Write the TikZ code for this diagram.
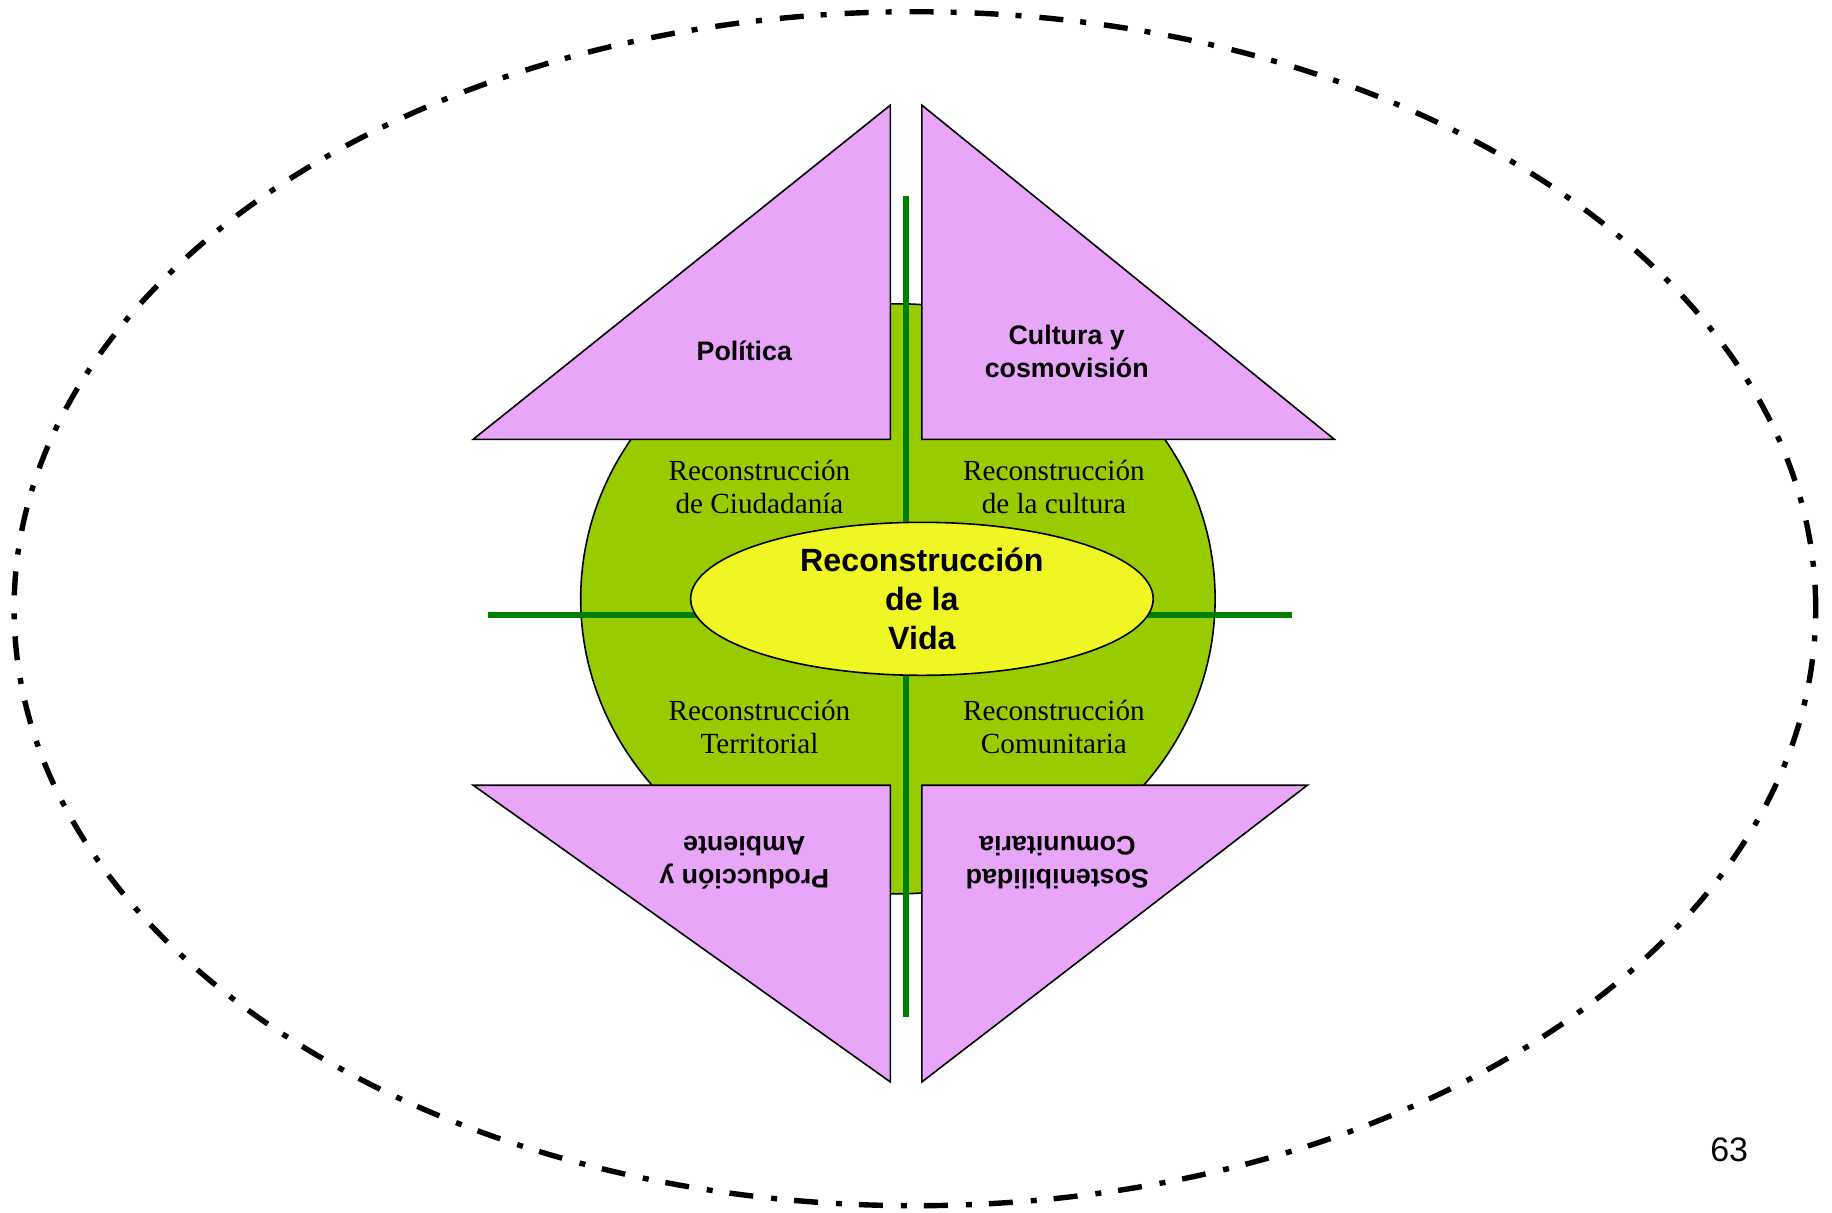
\documentclass[tikz,border=0pt]{standalone}
\usepackage{fontspec}
\setmainfont{Liberation Serif}
\setsansfont{Liberation Sans}
\usetikzlibrary{shapes.geometric}
\definecolor{petal}{RGB}{232,166,248}
\definecolor{leaf}{RGB}{153,204,0}
\definecolor{stem}{RGB}{0,128,0}
\definecolor{core}{RGB}{240,245,36}

\begin{document}
\begin{tikzpicture}[x=0.5pt,y=-0.5pt,
    oval/.style={ellipse,draw,inner sep=0pt,line width=0.8pt},
    tri/.style={draw,fill=petal,line width=0.8pt,line join=miter},
    stem line/.style={draw=stem,line width=3pt},
    tri node/.style={align=center,font=\sffamily\bfseries\fontsize{13.4}{16.4}\selectfont},
    quad node/.style={align=center,font=\rmfamily\fontsize{14.6}{16.4}\selectfont}]
    \useasboundingbox (0,0) rectangle (1832,1212);

    \node[oval,line width=2.7pt,dash pattern=on 12pt off 9pt on 3pt off 8.5pt,
        minimum width=900.8pt,minimum height=597pt] (outer) at (914.9,608.7) {};
    \node[oval,fill=leaf,minimum width=317.2pt,minimum height=295pt] (leaf) at (897.9,598.8) {};

    \coordinate (st) at (905.5,196.3);
    \coordinate (sb) at (905.5,1016.5);
    \coordinate (sl) at (488.4,615);
    \coordinate (sr) at (1292.3,615);
    \path[stem line] (st) -- (sb) (sl) -- (sr);

    % petals
    \draw[tri] (890.3,105.2) -- (473.2,439.3) -- (890.3,439.3) -- cycle;
    \draw[tri] (921.9,105.2) -- (921.9,439.3) -- (1334.3,439.3) -- cycle;
    \draw[tri] (473.2,785.2) -- (890.3,785.2) -- (890.3,1081.9) -- cycle;
    \draw[tri] (921.9,785.2) -- (1307.4,785.2) -- (921.9,1081.9) -- cycle;

    \node[oval,fill=core,minimum width=231.3pt,minimum height=76.5pt,align=center,
        font=\sffamily\bfseries\fontsize{16.1}{19.3}\selectfont] (vida) at (921.9,598.8) {Reconstrucción\\de la\\Vida};

    \node[tri node] (pol) at (744.3,350.5) {Política};
    \node[tri node] (cul) at (1066.7,351.7) {Cultura y\\cosmovisión};
    \node[tri node,rotate=180] (pro) at (744.3,862.3) {Producción y\\Ambiente};
    \node[tri node,rotate=180] (sos) at (1057.4,862.3) {Sostenibilidad\\Comunitaria};

    \node[quad node] (ciu) at (759.5,487.2) {Reconstrucción\\de Ciudadanía};
    \node[quad node] (lac) at (1053.9,487.2) {Reconstrucción\\de la cultura};
    \node[quad node] (ter) at (759.5,726.7) {Reconstrucción\\Territorial};
    \node[quad node] (com) at (1053.9,726.7) {Reconstrucción\\Comunitaria};

    \node[font=\sffamily\fontsize{17}{20}\selectfont] (num) at (1729.2,1149.7) {63};
\end{tikzpicture}
\end{document}
